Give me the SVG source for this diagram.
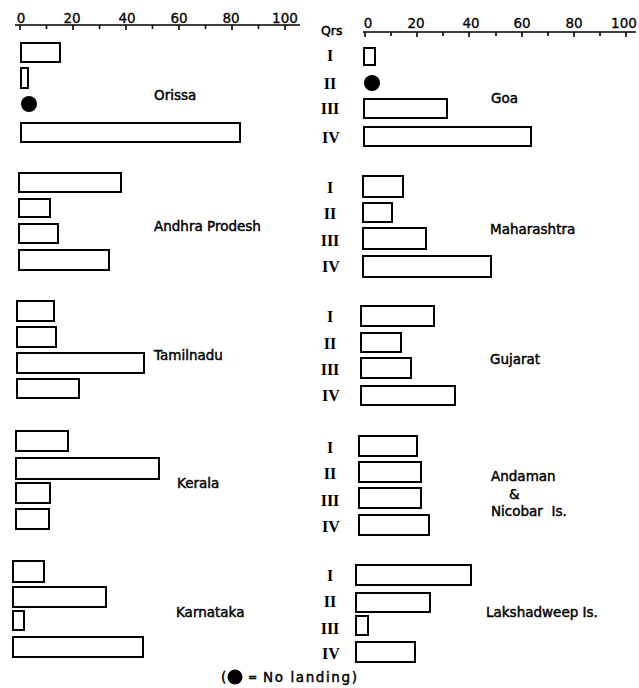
<svg xmlns="http://www.w3.org/2000/svg" width="639" height="688" viewBox="0 0 639 688">
<style>
.bar{fill:#fff;stroke:#000;stroke-width:2}
.ax{stroke:#000;stroke-width:1.6;fill:none}
.lbl{font-family:"DejaVu Sans","Liberation Sans",sans-serif;font-size:13.5px;fill:#000;stroke:#000;stroke-width:0.45}
.num{font-family:"DejaVu Sans","Liberation Sans",sans-serif;font-size:13.5px;fill:#000;stroke:#000;stroke-width:0.3;text-anchor:middle}
.rom{font-family:"Liberation Serif","DejaVu Serif",serif;font-size:16px;font-weight:bold;fill:#000;text-anchor:middle}
.dot{fill:#000}
</style>
<rect width="639" height="688" fill="#fff"/>
<g id="axis-left">
<path class="ax" d="M15 25H300M20 25v5M46.5 25v4M73 25v5M99.5 25v4M126 25v5M152.5 25v4M179 25v5M205.5 25v4M232 25v5M258.5 25v4M285 25v5"/>
<text class="num" x="21" y="23">0</text>
<text class="num" x="72" y="23">20</text>
<text class="num" x="127" y="23">40</text>
<text class="num" x="179" y="23">60</text>
<text class="num" x="231" y="23">80</text>
<text class="num" x="285" y="23">100</text>
</g>
<g id="axis-right">
<path class="ax" d="M363 32H636M365 32v5M391 32v4M417 32v5M443 32v4M469 32v5M496 32v4M522 32v5M548 32v4M574 32v5M600 32v4M626 32v5"/>
<text class="lbl" x="321" y="35" style="font-size:12.5px">Qrs</text>
<text class="num" x="368" y="28">0</text>
<text class="num" x="416" y="28">20</text>
<text class="num" x="471" y="28">40</text>
<text class="num" x="522" y="28">60</text>
<text class="num" x="574" y="28">80</text>
<text class="num" x="624" y="28">100</text>
</g>
<g id="orissa">
<rect class="bar" x="21" y="43" width="39" height="19"/>
<rect class="bar" x="21" y="68" width="7" height="20"/>
<circle class="dot" cx="29" cy="104" r="8"/>
<rect class="bar" x="21" y="123" width="219" height="19"/>
<text class="lbl" x="154" y="100">Orissa</text>
</g>
<g id="goa">
<rect class="bar" x="364" y="48" width="11" height="17"/>
<circle class="dot" cx="372" cy="83" r="8"/>
<rect class="bar" x="364" y="99" width="83" height="19"/>
<rect class="bar" x="364" y="127" width="167" height="19"/>
<text class="rom" x="330" y="61">I</text>
<text class="rom" x="330" y="89">II</text>
<text class="rom" x="330" y="114">III</text>
<text class="rom" x="331" y="143">IV</text>
<text class="lbl" x="491" y="103">Goa</text>
</g>
<g id="andhra-pradesh">
<rect class="bar" x="19" y="173" width="102" height="19"/>
<rect class="bar" x="19" y="199" width="31" height="18"/>
<rect class="bar" x="19" y="224" width="39" height="19"/>
<rect class="bar" x="19" y="250" width="90" height="20"/>
<text class="lbl" x="154" y="231">Andhra Prodesh</text>
</g>
<g id="maharashtra">
<rect class="bar" x="363" y="176" width="40" height="21"/>
<rect class="bar" x="363" y="203" width="29" height="19"/>
<rect class="bar" x="363" y="228" width="63" height="21"/>
<rect class="bar" x="363" y="256" width="128" height="21"/>
<text class="rom" x="330" y="193">I</text>
<text class="rom" x="330" y="219">II</text>
<text class="rom" x="330" y="246">III</text>
<text class="rom" x="331" y="272">IV</text>
<text class="lbl" x="490" y="234">Maharashtra</text>
</g>
<g id="tamilnadu">
<rect class="bar" x="17" y="301" width="37" height="20"/>
<rect class="bar" x="17" y="327" width="39" height="20"/>
<rect class="bar" x="17" y="353" width="127" height="20"/>
<rect class="bar" x="17" y="379" width="62" height="19"/>
<text class="lbl" x="154" y="360">Tamilnadu</text>
</g>
<g id="gujarat">
<rect class="bar" x="361" y="306" width="73" height="20"/>
<rect class="bar" x="361" y="333" width="40" height="19"/>
<rect class="bar" x="361" y="358" width="50" height="20"/>
<rect class="bar" x="361" y="386" width="94" height="19"/>
<text class="rom" x="330" y="322">I</text>
<text class="rom" x="330" y="349">II</text>
<text class="rom" x="330" y="375">III</text>
<text class="rom" x="331" y="401">IV</text>
<text class="lbl" x="490" y="364">Gujarat</text>
</g>
<g id="kerala">
<rect class="bar" x="16" y="431" width="52" height="20"/>
<rect class="bar" x="16" y="458" width="143" height="21"/>
<rect class="bar" x="16" y="483" width="34" height="20"/>
<rect class="bar" x="16" y="509" width="33" height="20"/>
<text class="lbl" x="177" y="488">Kerala</text>
</g>
<g id="andaman-nicobar">
<rect class="bar" x="359" y="436" width="58" height="20"/>
<rect class="bar" x="359" y="462" width="62" height="20"/>
<rect class="bar" x="359" y="488" width="62" height="20"/>
<rect class="bar" x="359" y="515" width="70" height="20"/>
<text class="rom" x="330" y="453">I</text>
<text class="rom" x="330" y="479">II</text>
<text class="rom" x="330" y="506">III</text>
<text class="rom" x="331" y="532">IV</text>
<text class="lbl" x="491" y="481">Andaman</text>
<text class="lbl" x="509" y="499">&amp;</text>
<text class="lbl" x="491" y="516" xml:space="preserve">Nicobar  Is.</text>
</g>
<g id="karnataka">
<rect class="bar" x="13" y="561" width="31" height="21"/>
<rect class="bar" x="13" y="587" width="93" height="20"/>
<rect class="bar" x="13" y="611" width="11" height="19"/>
<rect class="bar" x="13" y="637" width="130" height="20"/>
<text class="lbl" x="176" y="617">Karnataka</text>
</g>
<g id="lakshadweep">
<rect class="bar" x="356" y="565" width="115" height="20"/>
<rect class="bar" x="356" y="593" width="74" height="19"/>
<rect class="bar" x="356" y="616" width="12" height="19"/>
<rect class="bar" x="356" y="642" width="59" height="20"/>
<text class="rom" x="330" y="581">I</text>
<text class="rom" x="330" y="607">II</text>
<text class="rom" x="330" y="634">III</text>
<text class="rom" x="331" y="659">IV</text>
<text class="lbl" x="486" y="617">Lakshadweep Is.</text>
</g>
<g id="legend">
<text class="lbl" x="221" y="682">(</text>
<circle class="dot" cx="235" cy="677" r="7.5"/>
<text class="lbl" x="248" y="681" style="font-size:11px">=</text>
<text class="lbl" x="263" y="682" style="letter-spacing:1.6px">No landing)</text>
</g>
</svg>
